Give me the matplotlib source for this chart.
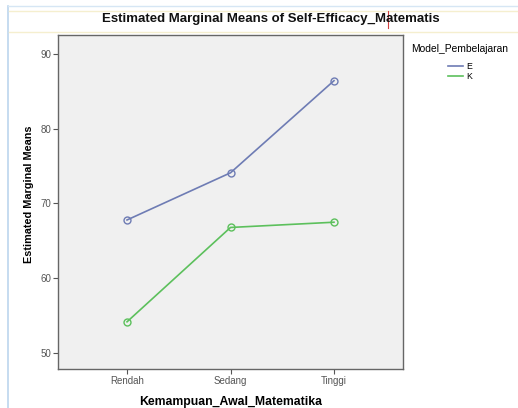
import matplotlib
matplotlib.use("Agg")
import matplotlib.pyplot as plt
from matplotlib.lines import Line2D

plt.rcParams['font.family'] = ['Liberation Sans', 'DejaVu Sans']

levels = ["Rendah", "Sedang", "Tinggi"]
groups = ["E", "K"]
means_E = [67.8, 74.1, 86.4]
means_K = [54.2, 66.8, 67.5]
colors = {"E": "#6e7cb4", "K": "#5cc05c"}
yticks = [50, 60, 70, 80, 90]

fig = plt.figure(figsize=(5.18, 4.08), dpi=100)
fig.patch.set_facecolor("white")

# window frame bits from the screenshot
fig.add_artist(Line2D([8/518, 8/518], [0, 1 - 6/408], color="#bcd6ee", lw=1.2))
fig.add_artist(Line2D([8/518, 1], [1 - 6/408, 1 - 6/408], color="#d6e6f4", lw=1))
fig.add_artist(Line2D([9/518, 1], [1 - 11/408, 1 - 11/408], color="#f5efcf", lw=1))
fig.add_artist(Line2D([9/518, 1], [1 - 32/408, 1 - 32/408], color="#f5efcf", lw=1))

fig.text(271/518, 1 - 19/408, "Estimated Marginal Means of Self-Efficacy_Matematis",
         ha="center", va="center", fontsize=9.5, fontweight="bold", color="#111111")
# text cursor in the title
fig.add_artist(Line2D([388/518, 388/518], [1 - 28/408, 1 - 11/408], color="#d04040", lw=0.8))

ax = fig.add_axes([58/518, 1 - 369/408, (403 - 58)/518, (369 - 35)/408])
ax.set_facecolor("#f0f0f0")

x = list(range(len(levels)))
for g, vals in zip(groups, [means_E, means_K]):
    ax.plot(x, vals, color=colors[g], lw=1.2, marker="o", markersize=5,
            markerfacecolor="none", markeredgecolor=colors[g], markeredgewidth=1, label=g)

ax.set_xlim(-0.667, 2.667)
ax.set_ylim(47.9, 92.5)
ax.set_xticks(x)
ax.set_xticklabels(levels)
ax.set_yticks(yticks)
ax.tick_params(axis="both", labelsize=7, labelcolor="#555555", color="#555555",
               length=3.6, width=0.8, pad=1.5)
for s in ax.spines.values():
    s.set_color("#666666")
    s.set_linewidth(1)

ax.set_xlabel("Kemampuan_Awal_Matematika", fontsize=8.8, fontweight="bold")
ax.xaxis.set_label_coords(0.5, -(402 - 369) / 334, transform=ax.transAxes)
ax.set_ylabel("Estimated Marginal Means", fontsize=7.8, fontweight="bold")
ax.yaxis.set_label_coords(-(58 - 29) / 345, (369 - 194) / 334, transform=ax.transAxes)
ax.xaxis.label.set_va("center")
ax.yaxis.label.set_va("center")

leg = ax.legend(title="Model_Pembelajaran", loc="upper center",
                bbox_to_anchor=((460 - 58) / 345, (369 - 44) / 334),
                frameon=False, fontsize=6.3, title_fontsize=7.4, handlelength=1.7,
                handletextpad=0.3, labelspacing=0.1, borderaxespad=0, borderpad=0)
for h in leg.legend_handles:
    h.set_marker("")
leg._legend_box.align = "center"
leg._legend_box.sep = 6

fig.savefig("out.png", dpi=100)
